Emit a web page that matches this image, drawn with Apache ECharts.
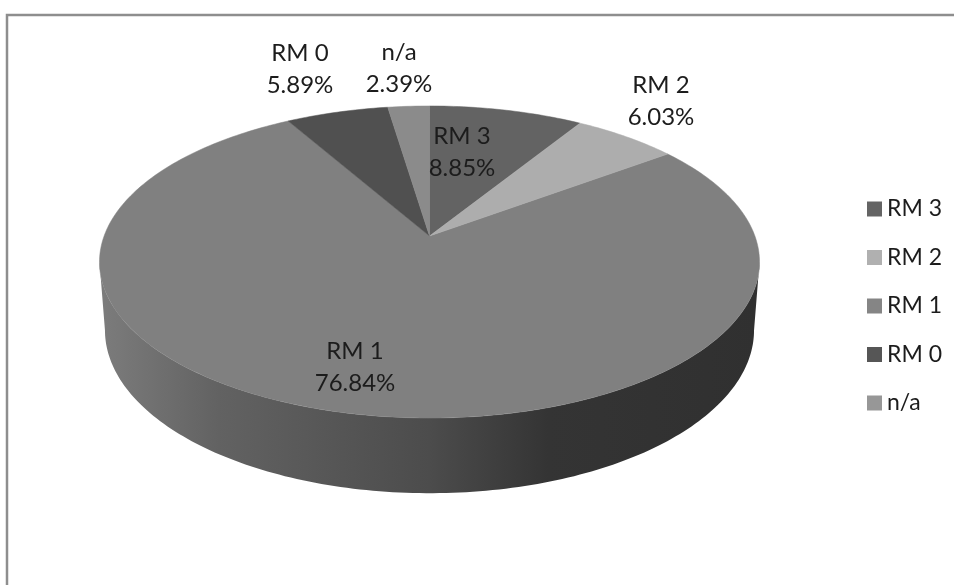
<!DOCTYPE html>
<html><head><meta charset="utf-8">
<script src="https://cdn.jsdelivr.net/npm/echarts@6/dist/echarts.min.js"></script>
<style>html,body{margin:0;padding:0;background:#fff;overflow:hidden}#c{width:954px;height:585px}</style>
</head><body><div id="c"></div>
<script>
var categories = ['RM 3','RM 2','RM 1','RM 0','n/a'];
var shares = [8.85,6.03,76.84,5.89,2.39];
var sliceColors = ['#636363','#adadad','#808080','#505050','#8b8b8b'];
var legendColors = ['#646464','#b0b0b0','#858585','#565656','#979797'];
var labelCenters = [[462,152],[661,101],[355,367],[300,69],[399,68]];

// perspective of the tilted disc
var persp = 1/6;
var topRim = {cx:429.5, cy:236, a:325.4, b:151.7};
var lowRim = {cx:429.5, cy:303, a:320, b:158.5};
function project(deg, r, t){
  var th = deg*Math.PI/180, u = t*Math.sin(th), v = t*Math.cos(th), w = 1+persp*v;
  return [r.cx + r.a*u/w, r.cy - r.b*v/w];
}
function arc(from, to, r){
  var pts = [], n = Math.max(2, Math.ceil(Math.abs(to-from)));
  for (var i=0;i<=n;i++) pts.push(project(from+(to-from)*i/n, r, 1));
  return pts;
}
var total = shares.reduce(function(a,b){return a+b;},0);
var wallGradient = {type:'linear',x:100,y:0,x2:759,y2:0,global:true,colorStops:[
  {offset:0,color:'#7c7c7c'},{offset:0.18,color:'#626262'},{offset:0.5,color:'#4c4c4c'},
  {offset:0.68,color:'#343434'},{offset:1,color:'#303030'}]};
var VIS_FROM = 99.6, VIS_TO = 260.4;

function makeRender(idx){
  return function(params, api){
    var before = shares.slice(0,idx).reduce(function(a,b){return a+b;},0);
    var start = before/total*360, end = start + api.value(0)/total*360;
    var children = [];
    var a0 = Math.max(start,VIS_FROM), a1 = Math.min(end,VIS_TO);
    if (a1 > a0){
      children.push({type:'polygon',shape:{points:arc(a0,a1,topRim).concat(arc(a1,a0,lowRim))},
        style:{fill:wallGradient}});
    }
    children.push({type:'polygon',
      shape:{points:[project(0,topRim,0)].concat(arc(start,end,topRim))},
      style:{fill:sliceColors[idx],stroke:sliceColors[idx],lineWidth:0.5}});
    children.push({type:'text',z2:50,style:{
      text:categories[idx]+'\n'+shares[idx].toFixed(2)+'%',
      x:labelCenters[idx][0],y:labelCenters[idx][1],align:'center',verticalAlign:'middle',
      font:'24px Lato',lineHeight:32,fill:'#1c1c1c'}});
    return {type:'group',children:children};
  };
}

var chart = echarts.init(document.getElementById('c'),null,{renderer:'canvas'});
chart.setOption({
  animation:false,
  backgroundColor:'#ffffff',
  graphic:[{type:'rect',shape:{x:7,y:15,width:1000,height:700},
    style:{fill:'none',stroke:'#8e8e8e',lineWidth:2.5},silent:true}],
  legend:{
    orient:'vertical',left:862,top:192,itemWidth:15,itemHeight:15,itemGap:24.5,
    icon:'rect',selectedMode:false,
    textStyle:{fontFamily:'Lato',fontSize:23,color:'#1c1c1c',lineHeight:24},
    data:categories.map(function(c,i){return {name:c,itemStyle:{color:legendColors[i]}};})
  },
  series:categories.map(function(c,i){
    return {type:'custom',name:c,coordinateSystem:'none',silent:true,
      itemStyle:{color:sliceColors[i]},
      data:[[shares[i]]],renderItem:makeRender(i),z:i===2?1:2};
  })
});
</script></body></html>
